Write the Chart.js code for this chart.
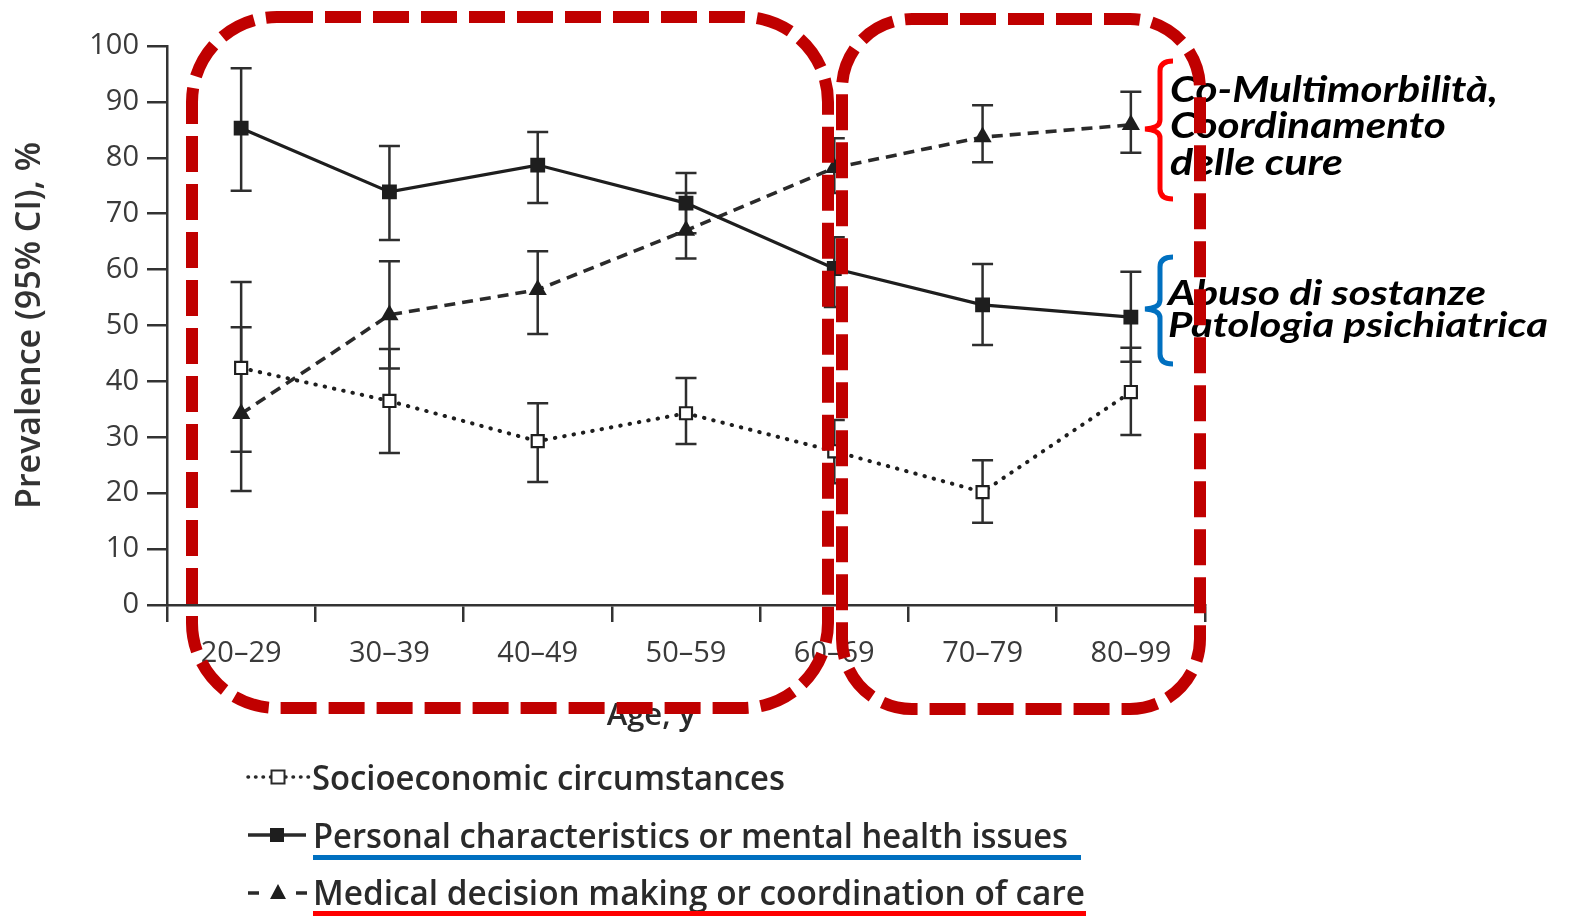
<!DOCTYPE html>
<html>
<head>
<meta charset="utf-8">
<script src="https://cdn.jsdelivr.net/npm/chart.js@4.4.1/dist/chart.umd.min.js"></script>
<style>
  html, body { margin: 0; padding: 0; background: #fff; }
  body { width: 1575px; height: 917px; position: relative; overflow: hidden; }
  #chart { position: absolute; left: 0; top: 0; }
  #overlay { position: absolute; left: 0; top: 0; pointer-events: none; }
  .tick { font-family: "Open Sans", sans-serif; fill: #2a2a2a; }
  .note { font-family: Lato, sans-serif; font-weight: 700; font-style: italic; fill: #000; }
</style>
</head>
<body>
<canvas id="chart" width="1575" height="734"></canvas>
<svg id="overlay" width="1575" height="917" viewBox="0 0 1575 917">
  <!-- x axis title -->
  <text class="tick" x="651" y="725" font-size="31" font-weight="600" text-anchor="middle" fill="#3a3a3a">Age, y</text>

  <!-- legend -->
  <g stroke="#2a2a2a" fill="none">
    <line x1="248" y1="777" x2="310" y2="777" stroke-width="3.5" stroke-dasharray="0.5 7" stroke-linecap="round"/>
    <rect x="271.5" y="770.5" width="13" height="13" fill="#fff" stroke-width="2"/>
    <line x1="248" y1="835" x2="306" y2="835" stroke-width="3.5"/>
    <rect x="270" y="828" width="14" height="14" fill="#1e1e1e" stroke="none"/>
    <line x1="248" y1="893" x2="259" y2="893" stroke-width="3.5"/>
    <line x1="296" y1="893" x2="307" y2="893" stroke-width="3.5"/>
    <path d="M278 884 L286 899 L270 899 Z" fill="#1e1e1e" stroke="none"/>
  </g>
  <g class="tick" font-size="34" font-weight="600">
    <text x="312" y="790" textLength="473" lengthAdjust="spacingAndGlyphs">Socioeconomic circumstances</text>
    <text x="313" y="848" textLength="755" lengthAdjust="spacingAndGlyphs">Personal characteristics or mental health issues</text>
    <text x="313" y="905" textLength="772" lengthAdjust="spacingAndGlyphs">Medical decision making or coordination of care</text>
  </g>
  <rect x="313" y="855" width="768" height="5" fill="#0070C0"/>
  <rect x="313" y="911" width="773" height="5" fill="#FF0000"/>

  <!-- group notes -->
  <path d="M1173 61 Q1160 61 1160 71 L1160 120 Q1160 128 1145 129 Q1160 130 1160 138 L1160 189 Q1160 199 1173 199"
        stroke="#FF0000" stroke-width="5" fill="none"/>
  <path d="M1173 257 Q1160 257 1160 267 L1160 300 Q1160 308 1145 309 Q1160 310 1160 318 L1160 354 Q1160 364 1173 364"
        stroke="#0070C0" stroke-width="5" fill="none"/>
  <g class="note" font-size="36">
    <text x="1170" y="102" textLength="328" lengthAdjust="spacingAndGlyphs">Co-Multimorbilità,</text>
    <text x="1170" y="138" textLength="276" lengthAdjust="spacingAndGlyphs">Coordinamento</text>
    <text x="1170" y="175" textLength="173" lengthAdjust="spacingAndGlyphs">delle cure</text>
  </g>
  <g class="note" font-size="34">
    <text x="1168" y="305" textLength="318" lengthAdjust="spacingAndGlyphs">Abuso di sostanze</text>
    <text x="1168" y="337" textLength="380" lengthAdjust="spacingAndGlyphs">Patologia psichiatrica</text>
  </g>

  <!-- age bands -->
  <g fill="none" stroke="#C00000" stroke-width="12" stroke-dasharray="36 12">
    <rect x="192" y="17" width="636" height="691" rx="85" ry="85"/>
    <rect x="842" y="19" width="358" height="690" rx="70" ry="70"/>
  </g>
</svg>
<script>
const ageGroups = ['20–29', '30–39', '40–49', '50–59', '60–69', '70–79', '80–99'];

const socioeconomic = [42.4, 36.5, 29.3, 34.3, 27.5, 20.2, 38.1];
const socioeconomicLow = [27.4, 27.2, 22.0, 28.8, 21.8, 14.7, 30.4];
const socioeconomicHigh = [57.8, 45.8, 36.1, 40.6, 33.1, 25.9, 46.0];

const personal = [85.3, 73.9, 78.7, 71.9, 60.2, 53.7, 51.5];
const personalLow = [74.1, 65.3, 71.9, 66.5, 53.3, 46.5, 43.5];
const personalHigh = [96.0, 82.1, 84.6, 77.3, 65.8, 61.0, 59.6];

const medical = [34.2, 51.9, 56.4, 67.0, 78.2, 83.7, 85.9];
const medicalLow = [20.4, 42.3, 48.5, 62.0, 73.7, 79.2, 80.9];
const medicalHigh = [49.7, 61.5, 63.3, 73.7, 83.5, 89.4, 91.8];

const INK = '#1e1e1e';
const AXIS = '#333';
const tickFont = { family: '"Open Sans", sans-serif', size: 29 };

// 95% CI whiskers, drawn under the lines and markers
const errorBars = {
	id: 'errorBars',
	beforeDatasetsDraw(chart) {
		const { ctx, scales: { y } } = chart;
		ctx.save();
		ctx.strokeStyle = '#2e2e2e';
		ctx.lineWidth = 2.5;
		chart.data.datasets.forEach((ds, i) => {
			chart.getDatasetMeta(i).data.forEach((pt, j) => {
				const top = y.getPixelForValue(ds.high[j]);
				const bottom = y.getPixelForValue(ds.low[j]);
				ctx.beginPath();
				ctx.moveTo(pt.x, top);
				ctx.lineTo(pt.x, bottom);
				ctx.moveTo(pt.x - 10.5, top);
				ctx.lineTo(pt.x + 10.5, top);
				ctx.moveTo(pt.x - 10.5, bottom);
				ctx.lineTo(pt.x + 10.5, bottom);
				ctx.stroke();
			});
		});
		ctx.restore();
	}
};

const data = {
	labels: ageGroups,
	datasets: [
		{
			label: 'Socioeconomic circumstances',
			data: socioeconomic,
			low: socioeconomicLow,
			high: socioeconomicHigh,
			borderColor: INK,
			borderWidth: 4,
			borderDash: [0.5, 9],
			borderCapStyle: 'round',
			pointStyle: 'rect',
			pointRadius: 8.5,
			pointBorderWidth: 2.2,
			pointBackgroundColor: '#fff',
			pointBorderColor: INK,
		},
		{
			label: 'Personal characteristics or mental health issues',
			data: personal,
			low: personalLow,
			high: personalHigh,
			borderColor: INK,
			borderWidth: 3.2,
			pointStyle: 'rect',
			pointRadius: 10.5,
			pointBorderWidth: 0,
			pointBackgroundColor: INK,
		},
		{
			label: 'Medical decision making or coordination of care',
			data: medical,
			low: medicalLow,
			high: medicalHigh,
			borderColor: '#2a2a2a',
			borderWidth: 3.6,
			borderDash: [11, 7],
			pointStyle: 'triangle',
			pointRadius: 10.5,
			pointBorderWidth: 0,
			pointBackgroundColor: INK,
		},
	]
};

const config = {
	type: 'line',
	data: data,
	options: {
		responsive: false,
		animation: false,
		devicePixelRatio: 1,
		layout: { padding: { left: 0, top: 46, right: 370, bottom: 0 } },
		plugins: {
			legend: { display: false },
			tooltip: { enabled: false },
		},
		scales: {
			x: {
				offset: true,
				grid: {
					offset: true,
					drawOnChartArea: false,
					drawTicks: true,
					tickLength: 17,
					color: AXIS,
					lineWidth: 2.5,
				},
				border: { display: true, color: AXIS, width: 2.5 },
				ticks: { font: tickFont, color: '#3a3a3a', padding: 14, maxRotation: 0, autoSkip: false },
				afterFit: (scale) => { scale.height = 129; },
			},
			y: {
				min: 0,
				max: 100,
				grid: {
					drawOnChartArea: false,
					drawTicks: true,
					tickLength: 20,
					color: AXIS,
					lineWidth: 2.5,
				},
				border: { display: true, color: AXIS, width: 2.5 },
				ticks: { stepSize: 10, font: tickFont, color: '#3a3a3a', padding: 8 },
				title: {
					display: true,
					text: 'Prevalence (95% CI), %',
					font: { family: '"Open Sans", sans-serif', size: 34, weight: '600' },
					color: '#333',
					padding: { top: 10, bottom: 0 },
				},
				afterFit: (scale) => { scale.width = 167; },
			}
		}
	},
	plugins: [errorBars]
};

new Chart(document.getElementById('chart'), config);
</script>
</body>
</html>
